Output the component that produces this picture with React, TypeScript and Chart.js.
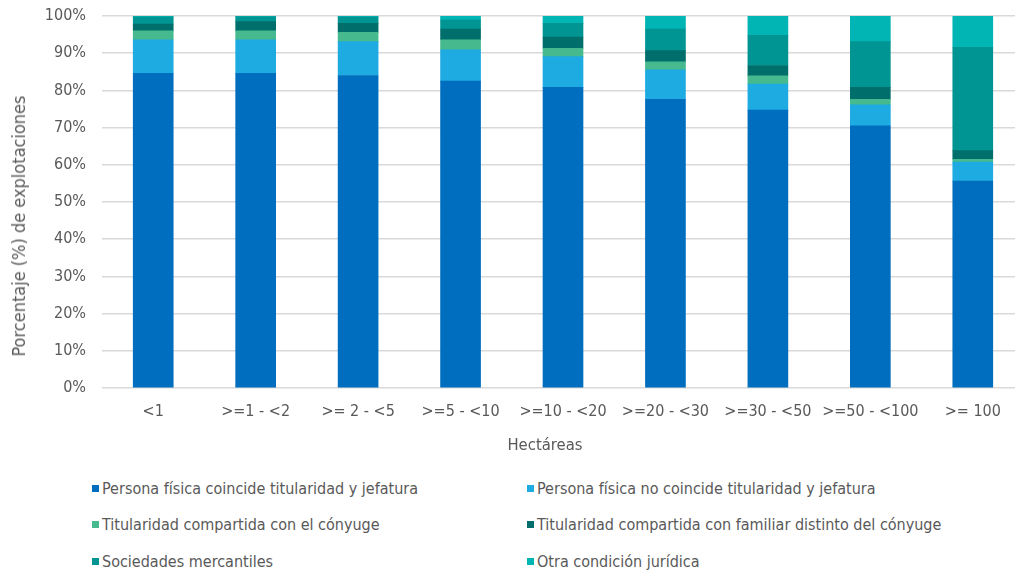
import React, { useEffect, useRef } from "react";
import { Chart, registerables } from "chart.js";

Chart.register(...registerables);

const categories = ["<1", ">=1 - <2", ">= 2 - <5", ">=5 - <10", ">=10 - <20", ">=20 - <30", ">=30 - <50", ">=50 - <100", ">= 100"];
const personaCoincide = [84.6, 84.6, 84.0, 82.5, 80.8, 77.6, 74.7, 70.5, 55.6];
const personaNoCoincide = [9.0, 9.0, 9.1, 8.4, 8.3, 7.9, 7.0, 5.6, 5.1];
const conyuge = [2.4, 2.4, 2.5, 2.7, 2.2, 2.2, 2.2, 1.5, 0.8];
const familiar = [1.8, 2.5, 2.4, 2.9, 3.0, 3.0, 2.8, 3.2, 2.3];
const sociedades = [1.9, 1.3, 1.7, 2.4, 3.7, 5.8, 8.1, 12.3, 27.8];
const otra = [0.3, 0.2, 0.3, 1.1, 2.0, 3.5, 5.2, 6.9, 8.4];

const xTitle = "Hectáreas";
const yTitle = "Porcentaje (%) de explotaciones";

const seriesNames = [
  "Persona física coincide titularidad y jefatura",
  "Persona física no coincide titularidad y jefatura",
  "Titularidad compartida con el cónyuge",
  "Titularidad compartida con familiar distinto del cónyuge",
  "Sociedades mercantiles",
  "Otra condición jurídica",
];
const seriesColors = ["#006EBE", "#1EABE2", "#46B98F", "#006F6C", "#009593", "#00B5B3"];
const seriesData = [personaCoincide, personaNoCoincide, conyuge, familiar, sociedades, otra];

const FONT = "'DejaVu Sans Condensed', 'DejaVu Sans', sans-serif";
const GRAY = "#595959";

export default function App() {
  const ref = useRef<HTMLCanvasElement | null>(null);

  useEffect(() => {
    if (!ref.current) return;
    const chart = new Chart(ref.current, {
      type: "bar",
      data: {
        labels: categories,
        datasets: seriesData.map((d, i) => ({
          label: seriesNames[i],
          data: d,
          backgroundColor: seriesColors[i],
          borderWidth: 0,
          barThickness: 40,
        })),
      },
      options: {
        responsive: false,
        animation: false,
        layout: { padding: { top: 16, left: 0, right: 6, bottom: 0 } },
        plugins: { legend: { display: false }, tooltip: { enabled: false } },
        scales: {
          x: {
            stacked: true,
            grid: { display: false, drawTicks: false },
            border: { display: false },
            ticks: { color: GRAY, font: { family: FONT, size: 16 }, padding: 14, maxRotation: 0, autoSkip: false },
            title: { display: false },
            afterFit: (s: any) => { s.height = 465 - 388; s.paddingLeft = 0; s.paddingRight = 0; },
          },
          y: {
            stacked: true,
            min: 0,
            max: 100,
            grid: { color: "#D9D9D9", lineWidth: 1.5, drawTicks: false },
            border: { display: false },
            ticks: { stepSize: 10, color: GRAY, font: { family: FONT, size: 16 }, padding: 16, callback: (v: any) => v + "%" },
            title: { display: false },
            afterFit: (s: any) => { s.width = 102; s.paddingTop = 0; s.paddingBottom = 0; },
          },
        },
      },
    });
    return () => chart.destroy();
  }, []);

  const rows = [[0, 1], [2, 3], [4, 5]];
  const rowY = [488, 524, 561];
  const colX = [92, 527];

  return (
    <div style={{ position: "absolute", left: 0, top: 0, width: 1015, height: 573, overflow: "hidden", background: "#fff" }}>
      <canvas ref={ref} width={1030} height={465} style={{ position: "absolute", left: 0, top: 0, width: 1030, height: 465 }} />
      <div
        style={{
          position: "absolute",
          left: 19,
          top: 226,
          transform: "translate(-50%, -50%) rotate(-90deg)",
          fontFamily: FONT,
          fontSize: 18,
          color: GRAY,
          whiteSpace: "nowrap",
          lineHeight: "22px",
        }}
      >
        {yTitle}
      </div>
      <div
        style={{
          position: "absolute",
          left: 545,
          top: 445,
          transform: "translate(-50%, -50%)",
          fontFamily: FONT,
          fontSize: 16.5,
          color: GRAY,
          whiteSpace: "nowrap",
          lineHeight: "22px",
        }}
      >
        {xTitle}
      </div>
      {rows.map((r, ri) =>
        r.map((si, ci) => (
          <div
            key={si}
            style={{
              position: "absolute",
              left: colX[ci],
              top: rowY[ri] - 11,
              height: 22,
              display: "flex",
              alignItems: "center",
              fontFamily: FONT,
              fontSize: 16,
              color: GRAY,
              whiteSpace: "nowrap",
            }}
          >
            <span style={{ display: "inline-block", width: 7, height: 7, background: seriesColors[si], marginRight: 3 }} />
            <span>{seriesNames[si]}</span>
          </div>
        ))
      )}
    </div>
  );
}
